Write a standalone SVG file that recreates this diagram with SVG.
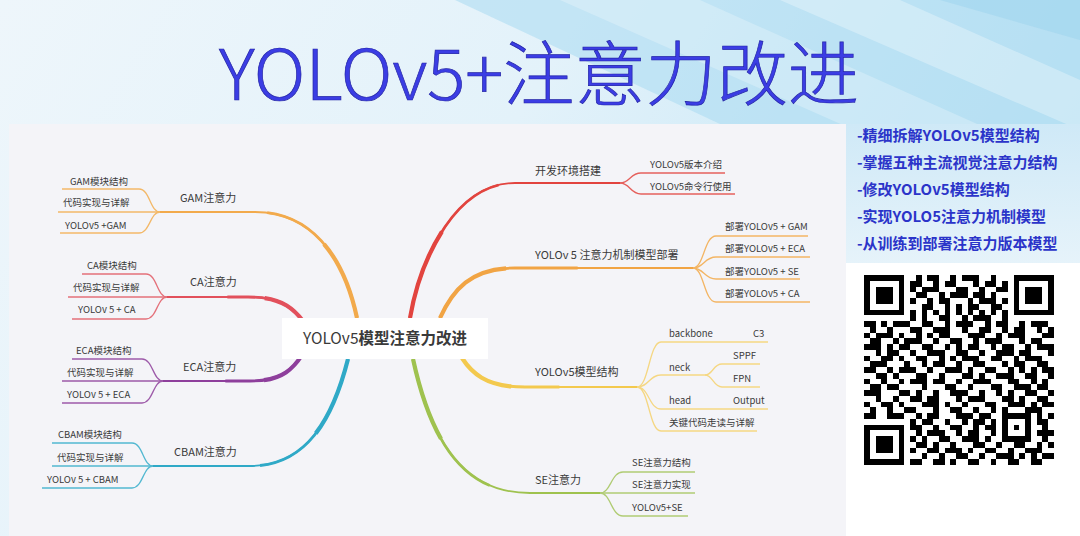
<svg xmlns="http://www.w3.org/2000/svg" width="1080" height="536" viewBox="0 0 1080 536">
<defs>
<linearGradient id="bgg" x1="0" y1="0" x2="1" y2="0.3">
<stop offset="0" stop-color="#eef6fb"/>
<stop offset="0.5" stop-color="#e3f2fa"/>
<stop offset="1" stop-color="#bfe4f5"/>
</linearGradient>
<linearGradient id="rg" x1="0" y1="0" x2="0" y2="1">
<stop offset="0" stop-color="#cfe9f7"/>
<stop offset="1" stop-color="#e6f3fa"/>
</linearGradient>
<style>
.t{font-family:"Noto Sans CJK SC","Noto Sans",sans-serif;fill:#3a3a3a}
.s{font-size:9.5px}
.l{font-size:11px}
.c path{fill:none;stroke-linecap:butt}
.sub{stroke-width:1.3}
.m1{stroke-width:1.8}
.m2{stroke-width:2.8;stroke-dasharray:58 100}
.m3{stroke-width:4.2;stroke-dasharray:32 100}
.gam{stroke:#f2aa4c}.ca{stroke:#e2505c}.eca{stroke:#8e3f9c}.cbam{stroke:#2fa9c7}
.dev{stroke:#e2443f}.dep{stroke:#f1a444}.str{stroke:#f3c94e}.se{stroke:#9fc24f}
.subgam{stroke:#f3b868}.subca{stroke:#e4707a}.subeca{stroke:#9d5aa9}.subcbam{stroke:#52b8d1}
.subdev{stroke:#e5605c}.subdep{stroke:#f3b564}.substr{stroke:#f5d783}.subse{stroke:#b0cc74}
.rt{font-family:"Noto Sans CJK SC",sans-serif;font-size:15px;font-weight:700;fill:#2b34c9}
</style>
</defs>

<!-- background -->
<rect x="0" y="0" width="1080" height="536" fill="url(#bgg)"/>
<polygon points="455,0 1080,0 1080,250 720,124" fill="#aedcf2" opacity="0.6"/>
<polygon points="560,0 700,0 1080,170 1080,230" fill="#ffffff" opacity="0.25"/>
<polygon points="780,0 900,0 1080,80 1080,130" fill="#ffffff" opacity="0.3"/>
<polygon points="940,0 1080,0 1080,40" fill="#9bd3ee" opacity="0.5"/>
<rect x="846" y="124" width="234" height="140" fill="url(#rg)"/>
<rect x="846" y="263" width="234" height="273" fill="#ffffff"/>
<rect x="9" y="124" width="837" height="412" fill="#f4f4f8"/>

<!-- title -->
<text x="219" y="100" font-family="Noto Sans CJK SC, sans-serif" font-size="70" font-weight="300" fill="#3b3de4" stroke="#2526a6" stroke-width="0.7" textLength="640" lengthAdjust="spacingAndGlyphs">YOLOv5+注意力改进</text>

<!-- connectors -->
<g id="connectors" class="c">
<path class="gam m1" d="M357,318 C345,262 315,212 255,212 H160"/>
<path class="gam m2" pathLength="100" d="M357,318 C345,262 315,212 255,212 H160"/>
<path class="gam m3" pathLength="100" d="M357,318 C345,262 315,212 255,212 H160"/>
<path class="ca m1" d="M303,321 C290,304 276,297 248,297 H167"/>
<path class="ca m2" pathLength="100" d="M303,321 C290,304 276,297 248,297 H167"/>
<path class="ca m3" pathLength="100" d="M303,321 C290,304 276,297 248,297 H167"/>
<path class="eca m1" d="M302,355 C290,374 276,381 250,381 H163"/>
<path class="eca m2" pathLength="100" d="M302,355 C290,374 276,381 250,381 H163"/>
<path class="eca m3" pathLength="100" d="M302,355 C290,374 276,381 250,381 H163"/>
<path class="cbam m1" d="M348,359 C330,430 300,466 250,466 H153"/>
<path class="cbam m2" pathLength="100" d="M348,359 C330,430 300,466 250,466 H153"/>
<path class="cbam m3" pathLength="100" d="M348,359 C330,430 300,466 250,466 H153"/>
<path class="dev m1" d="M410,318 C420,260 455,183 515,183 H620"/>
<path class="dev m2" pathLength="100" d="M410,318 C420,260 455,183 515,183 H620"/>
<path class="dev m3" pathLength="100" d="M410,318 C420,260 455,183 515,183 H620"/>
<path class="dep m1" d="M440,318 C455,285 475,268 515,268 H693"/>
<path class="dep m2" pathLength="100" d="M440,318 C455,285 475,268 515,268 H693"/>
<path class="dep m3" pathLength="100" d="M440,318 C455,285 475,268 515,268 H693"/>
<path class="str m1" d="M462,358 C475,378 492,387 525,387 H637"/>
<path class="str m2" pathLength="100" d="M462,358 C475,378 492,387 525,387 H637"/>
<path class="str m3" pathLength="100" d="M462,358 C475,378 492,387 525,387 H637"/>
<path class="se m1" d="M413,359 C435,460 475,493 530,493 H600"/>
<path class="se m2" pathLength="100" d="M413,359 C435,460 475,493 530,493 H600"/>
<path class="se m3" pathLength="100" d="M413,359 C435,460 475,493 530,493 H600"/>
<path class="sub subgam" d="M160,212 C150,212 150,189 139,189 H62"/>
<path class="sub subgam" d="M160,212 H58"/>
<path class="sub subgam" d="M160,212 C150,212 150,233 139,233 H60"/>
<path class="sub subca" d="M167,297 C157,297 157,274 146,274 H82"/>
<path class="sub subca" d="M167,297 H68"/>
<path class="sub subca" d="M167,297 C157,297 157,319 146,319 H72"/>
<path class="sub subeca" d="M163,381 C153,381 153,359 142,359 H72"/>
<path class="sub subeca" d="M163,381 H62"/>
<path class="sub subeca" d="M163,381 C153,381 153,403 142,403 H62"/>
<path class="sub subcbam" d="M153,466 C143,466 143,443 132,443 H52"/>
<path class="sub subcbam" d="M153,466 H52"/>
<path class="sub subcbam" d="M153,466 C143,466 143,488 132,488 H42"/>
<path class="sub subdev" d="M620,183 C630,183 630,173 641,173 H725"/>
<path class="sub subdev" d="M620,183 C630,183 630,194 641,194 H735"/>
<path class="sub subdep" d="M693,268 C704,268 704,236 716,236 H808"/>
<path class="sub subdep" d="M693,268 C704,268 704,257 716,257 H810"/>
<path class="sub subdep" d="M693,268 C704,268 704,279 716,279 H800"/>
<path class="sub subdep" d="M693,268 C704,268 704,302 716,302 H810"/>
<path class="sub substr" d="M637,387 C649,387 649,342 661,342 H768"/>
<path class="sub substr" d="M637,387 C649,387 649,375 661,375 H705"/>
<path class="sub substr" d="M705,375 C713,375 713,364 722,364 H760"/>
<path class="sub substr" d="M705,375 C713,375 713,387 722,387 H760"/>
<path class="sub substr" d="M637,387 C649,387 649,409 661,409 H768"/>
<path class="sub substr" d="M637,387 C649,387 649,431 661,431 H757"/>
<path class="sub subse" d="M600,493 C611,493 611,472 623,472 H695"/>
<path class="sub subse" d="M600,493 H695"/>
<path class="sub subse" d="M600,493 C611,493 611,516 623,516 H688"/>
</g>

<!-- center node -->
<g id="node-root">
<rect x="282" y="318" width="206" height="41" fill="#ffffff"/>
<text class="t" x="385" y="344" font-size="15.5" text-anchor="middle" fill="#222">YOLOv5<tspan font-weight="700">模型注意力改进</tspan></text>
</g>

<g id="node-gam">
<text class="t l" x="180" y="201.5">GAM注意力</text>
<text class="t s" x="70" y="184.5">GAM模块结构</text>
<text class="t s" x="63" y="206">代码实现与详解</text>
<text class="t s" x="65" y="229">YOLOv5 +GAM</text>
</g>
<g id="node-ca">
<text class="t l" x="190" y="286">CA注意力</text>
<text class="t s" x="87" y="268.5">CA模块结构</text>
<text class="t s" x="73" y="291">代码实现与详解</text>
<text class="t s" x="78" y="313">YOLOv 5 + CA</text>
</g>
<g id="node-eca">
<text class="t l" x="183" y="371">ECA注意力</text>
<text class="t s" x="76" y="353.5">ECA模块结构</text>
<text class="t s" x="67" y="376">代码实现与详解</text>
<text class="t s" x="67" y="398">YOLOv 5 + ECA</text>
</g>
<g id="node-cbam">
<text class="t l" x="174" y="456">CBAM注意力</text>
<text class="t s" x="58" y="438">CBAM模块结构</text>
<text class="t s" x="57" y="460.5">代码实现与详解</text>
<text class="t s" x="47" y="483">YOLOv 5 + CBAM</text>
</g>

<g id="node-dev">
<text class="t l" x="535" y="175">开发环境搭建</text>
<text class="t s" x="650" y="167.5">YOLOv5版本介绍</text>
<text class="t s" x="650" y="189.5">YOLOv5命令行使用</text>
</g>
<g id="node-deploy">
<text class="t l" x="535" y="259">YOLOv 5 注意力机制模型部署</text>
<text class="t s" x="725" y="229.5">部署YOLOv5 + GAM</text>
<text class="t s" x="725" y="251.5">部署YOLOv5 + ECA</text>
<text class="t s" x="725" y="274.5">部署YOLOv5 + SE</text>
<text class="t s" x="725" y="296.5">部署YOLOv5 + CA</text>
</g>
<g id="node-structure">
<text class="t l" x="535" y="376">YOLOv5模型结构</text>
<text class="t s" x="669" y="336.5">backbone</text>
<text class="t s" x="753" y="336.5">C3</text>
<text class="t s" x="669" y="370.5">neck</text>
<text class="t s" x="733" y="358.5">SPPF</text>
<text class="t s" x="733" y="382">FPN</text>
<text class="t s" x="669" y="403.5">head</text>
<text class="t s" x="733" y="403.5">Output</text>
<text class="t s" x="669" y="426">关键代码走读与详解</text>
</g>
<g id="node-se">
<text class="t l" x="535" y="484">SE注意力</text>
<text class="t s" x="632" y="466">SE注意力结构</text>
<text class="t s" x="632" y="488">SE注意力实现</text>
<text class="t s" x="632" y="510.5">YOLOv5+SE</text>
</g>

<g id="info">
<text class="rt" x="857" y="140.5">-精细拆解YOLOv5模型结构</text>
<text class="rt" x="857" y="168">-掌握五种主流视觉注意力结构</text>
<text class="rt" x="857" y="195">-修改YOLOv5模型结构</text>
<text class="rt" x="857" y="222">-实现YOLO5注意力机制模型</text>
<text class="rt" x="857" y="249">-从训练到部署注意力版本模型</text>
</g>

<g id="qr" transform="translate(864,275) scale(5.75)" fill="#000" shape-rendering="crispEdges">
<path fill-rule="evenodd" d="M0 0h7v7h-7z M1 1v5h5v-5z M2 2h3v3h-3z M26 0h7v7h-7z M27 1v5h5v-5z M28 2h3v3h-3z M0 26h7v7h-7z M1 27v5h5v-5z M2 28h3v3h-3z"/>
<path d="M9 0h1v1h-1z M11 0h2v1h-2z M15 0h1v1h-1z M17 0h3v1h-3z M22 0h1v1h-1z
M8 1h2v1h-2z M12 1h1v1h-1z M14 1h2v1h-2z M19 1h1v1h-1z M21 1h2v1h-2z M24 1h1v1h-1z
M8 2h1v1h-1z M10 2h3v1h-3z M16 2h2v1h-2z M20 2h1v1h-1z M23 2h2v1h-2z
M9 3h2v1h-2z M13 3h1v1h-1z M15 3h3v1h-3z M19 3h2v1h-2z M22 3h1v1h-1z
M8 4h1v1h-1z M11 4h1v1h-1z M13 4h2v1h-2z M18 4h1v1h-1z M20 4h3v1h-3z M24 4h1v1h-1z
M10 5h2v1h-2z M14 5h1v1h-1z M16 5h1v1h-1z M18 5h2v1h-2z M22 5h2v1h-2z
M8 6h1v1h-1z M10 6h1v1h-1z M12 6h1v1h-1z M14 6h1v1h-1z M16 6h1v1h-1z M18 6h1v1h-1z M20 6h1v1h-1z M22 6h1v1h-1z M24 6h1v1h-1z
M8 7h1v1h-1z M10 7h1v1h-1z M13 7h2v1h-2z M17 7h1v1h-1z M19 7h3v1h-3z M24 7h1v1h-1z
M0 8h2v1h-2z M3 8h1v1h-1z M5 8h3v1h-3z M10 8h2v1h-2z M14 8h1v1h-1z M16 8h3v1h-3z M21 8h1v1h-1z M23 8h2v1h-2z M27 8h1v1h-1z M29 8h3v1h-3z
M1 9h1v1h-1z M4 9h1v1h-1z M8 9h2v1h-2z M12 9h3v1h-3z M17 9h1v1h-1z M20 9h2v1h-2z M24 9h1v1h-1z M26 9h2v1h-2z M30 9h1v1h-1z M32 9h1v1h-1z
M0 10h1v1h-1z M2 10h3v1h-3z M6 10h1v1h-1z M9 10h1v1h-1z M11 10h1v1h-1z M13 10h2v1h-2z M18 10h3v1h-3z M23 10h1v1h-1z M25 10h3v1h-3z M31 10h2v1h-2z
M1 11h2v1h-2z M5 11h1v1h-1z M7 11h3v1h-3z M12 11h1v1h-1z M15 11h2v1h-2z M19 11h1v1h-1z M21 11h3v1h-3z M27 11h1v1h-1z M29 11h2v1h-2z
M0 12h3v1h-3z M4 12h1v1h-1z M6 12h2v1h-2z M10 12h2v1h-2z M14 12h1v1h-1z M16 12h1v1h-1z M18 12h2v1h-2z M22 12h1v1h-1z M24 12h2v1h-2z M28 12h1v1h-1z M30 12h3v1h-3z
M2 13h1v1h-1z M4 13h2v1h-2z M8 13h1v1h-1z M11 13h3v1h-3z M16 13h2v1h-2z M20 13h1v1h-1z M23 13h3v1h-3z M27 13h2v1h-2z M32 13h1v1h-1z
M0 14h1v1h-1z M3 14h2v1h-2z M6 14h1v1h-1z M9 14h2v1h-2z M13 14h1v1h-1z M15 14h1v1h-1z M17 14h3v1h-3z M22 14h2v1h-2z M26 14h1v1h-1z M28 14h3v1h-3z
M1 15h3v1h-3z M7 15h1v1h-1z M10 15h1v1h-1z M12 15h2v1h-2z M16 15h1v1h-1z M19 15h2v1h-2z M24 15h1v1h-1z M26 15h2v1h-2z M30 15h2v1h-2z
M0 16h2v1h-2z M4 16h1v1h-1z M6 16h3v1h-3z M11 16h1v1h-1z M14 16h3v1h-3z M18 16h1v1h-1z M21 16h2v1h-2z M25 16h1v1h-1z M27 16h1v1h-1z M29 16h1v1h-1z M31 16h2v1h-2z
M2 17h2v1h-2z M5 17h1v1h-1z M9 17h2v1h-2z M13 17h1v1h-1z M17 17h2v1h-2z M20 17h1v1h-1z M23 17h3v1h-3z M28 17h2v1h-2z M32 17h1v1h-1z
M0 18h1v1h-1z M3 18h1v1h-1z M6 18h1v1h-1z M8 18h3v1h-3z M12 18h2v1h-2z M16 18h1v1h-1z M19 18h3v1h-3z M25 18h2v1h-2z M29 18h1v1h-1z M31 18h1v1h-1z
M1 19h2v1h-2z M4 19h2v1h-2z M10 19h1v1h-1z M14 19h2v1h-2z M18 19h1v1h-1z M22 19h2v1h-2z M26 19h3v1h-3z M30 19h2v1h-2z
M0 20h3v1h-3z M6 20h2v1h-2z M9 20h1v1h-1z M12 20h1v1h-1z M15 20h3v1h-3z M20 20h1v1h-1z M23 20h1v1h-1z M25 20h1v1h-1z M28 20h2v1h-2z M32 20h1v1h-1z
M2 21h1v1h-1z M5 21h1v1h-1z M8 21h2v1h-2z M11 21h2v1h-2z M16 21h1v1h-1z M18 21h3v1h-3z M24 21h2v1h-2z M27 21h1v1h-1z M30 21h2v1h-2z
M0 22h1v1h-1z M3 22h2v1h-2z M6 22h1v1h-1z M10 22h3v1h-3z M14 22h1v1h-1z M17 22h1v1h-1z M21 22h2v1h-2z M25 22h3v1h-3z M29 22h1v1h-1z M31 22h2v1h-2z
M1 23h1v1h-1z M4 23h1v1h-1z M7 23h2v1h-2z M12 23h1v1h-1z M15 23h2v1h-2z M19 23h1v1h-1z M22 23h1v1h-1z M24 23h1v1h-1z M28 23h3v1h-3z
M0 24h2v1h-2z M4 24h3v1h-3z M9 24h1v1h-1z M11 24h2v1h-2z M16 24h3v1h-3z M20 24h2v1h-2z M24 24h5v1h-5z M30 24h1v1h-1z M32 24h1v1h-1z
M8 25h1v1h-1z M10 25h2v1h-2z M14 25h1v1h-1z M17 25h1v1h-1z M19 25h2v1h-2z M22 25h1v1h-1z M24 25h1v1h-1z M28 25h1v1h-1z M30 25h2v1h-2z
M8 26h2v1h-2z M12 26h1v1h-1z M15 26h2v1h-2z M19 26h1v1h-1z M21 26h2v1h-2z M24 26h1v1h-1z M26 26h1v1h-1z M28 26h1v1h-1z M31 26h1v1h-1z
M9 27h1v1h-1z M11 27h3v1h-3z M16 27h1v1h-1z M18 27h2v1h-2z M22 27h1v1h-1z M24 27h1v1h-1z M28 27h1v1h-1z M30 27h3v1h-3z
M8 28h1v1h-1z M10 28h1v1h-1z M13 28h2v1h-2z M17 28h3v1h-3z M21 28h1v1h-1z M24 28h5v1h-5z M31 28h1v1h-1z
M9 29h2v1h-2z M12 29h1v1h-1z M15 29h1v1h-1z M19 29h2v1h-2z M23 29h1v1h-1z M26 29h2v1h-2z M30 29h1v1h-1z M32 29h1v1h-1z
M8 30h1v1h-1z M11 30h2v1h-2z M14 30h3v1h-3z M18 30h1v1h-1z M21 30h2v1h-2z M25 30h1v1h-1z M28 30h3v1h-3z
M10 31h1v1h-1z M13 31h1v1h-1z M16 31h2v1h-2z M20 31h1v1h-1z M23 31h3v1h-3z M27 31h1v1h-1z M29 31h1v1h-1z M31 31h2v1h-2z
M8 32h2v1h-2z M12 32h2v1h-2z M15 32h1v1h-1z M18 32h2v1h-2z M22 32h1v1h-1z M25 32h2v1h-2z M29 32h2v1h-2z"/>
</g>
</svg>
